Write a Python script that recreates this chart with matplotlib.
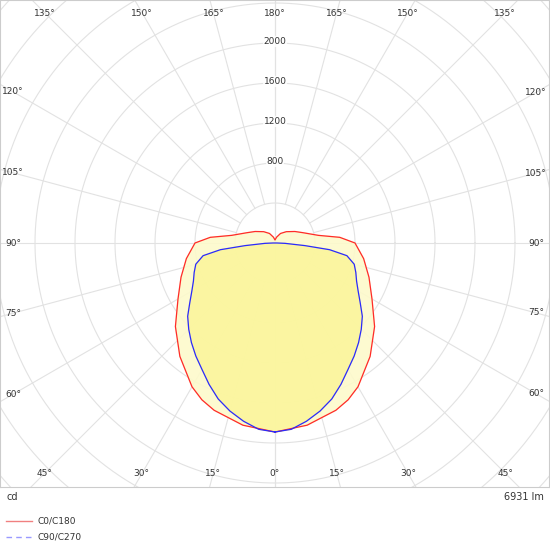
import numpy as np
import matplotlib.pyplot as plt
from matplotlib.lines import Line2D

# gamma angles (deg, 0 = straight down) and intensities (cd)
c0_angles = [0, 10, 20, 25, 30, 40, 50, 60, 70, 80, 90, 95, 100, 110, 120, 135, 150, 165, 180]
c0_cd = [1890, 1850, 1780, 1730, 1660, 1480, 1300, 1120, 1000, 900, 800, 650, 440, 300, 230, 160, 110, 60, 30]
c90_angles = [0, 5, 10, 15, 20, 25, 30, 35, 40, 45, 50, 55, 60, 65, 70, 75, 80, 83, 85, 88, 90]
c90_cd = [1890, 1870, 1810, 1740, 1660, 1560, 1460, 1380, 1300, 1220, 1140, 1040, 960, 900, 860, 820, 730, 550, 300, 100, 20]
ring_values = [400, 800, 1200, 1600, 2000, 2400, 2800, 3200, 3600]
ring_labels = [800, 1200, 1600, 2000]
spoke_angles = np.arange(0, 181, 15)
flux_text = "6931 lm"

W, H = 550, 550
fig = plt.figure(figsize=(W / 100, H / 100), dpi=100)
# plot box: x 0..549 px, y 0..487 px from top; centre at (275, 243); 0.1 px per cd
box_l, box_t, box_r, box_b = 0, 0, 549, 487
cx, cy, scale = 275, 243, 0.1
ax = fig.add_axes([box_l / W, 1 - box_b / H, (box_r - box_l) / W, (box_b - box_t) / H])
x0, x1 = (box_l - cx) / scale, (box_r - cx) / scale
y0, y1 = -(box_b - cy) / scale, (cy - box_t) / scale
ax.set_xlim(x0, x1)
ax.set_ylim(y0, y1)
ax.set_xticks([])
ax.set_yticks([])
for s in ax.spines.values():
    s.set_color('#cccccc')
    s.set_linewidth(0.8)

grid_c = '#e2e2e2'
t = np.linspace(0, 2 * np.pi, 400)
for r in ring_values:
    ax.plot(r * np.cos(t), r * np.sin(t), color=grid_c, lw=0.8, zorder=1)
for a in spoke_angles:
    rad = np.deg2rad(a)
    r_start = 0 if a in (0, 180) else 400
    for sgn in (1, -1):
        ax.plot([sgn * r_start * np.sin(rad), sgn * 6000 * np.sin(rad)],
                [-r_start * np.cos(rad), -6000 * np.cos(rad)], color=grid_c, lw=0.8, zorder=1)


def closed_curve(angles, vals):
    a = np.deg2rad(np.array(angles, dtype=float))
    v = np.array(vals, dtype=float)
    xr, yr = v * np.sin(a), -v * np.cos(a)
    return np.concatenate([xr, -xr[::-1]]), np.concatenate([yr, yr[::-1]])


rx, ry = closed_curve(c0_angles, c0_cd)
bx, by = closed_curve(c90_angles, c90_cd)
ax.fill(rx, ry, color='#fdfacb', alpha=0.9, zorder=2)
ax.fill(bx, by, color='#fbf59c', alpha=0.9, zorder=3)
ax.plot(rx, ry, color='#ff2a2a', lw=0.9, zorder=5)
ax.plot(bx, by, color='#2a2aff', lw=0.9, zorder=6)

# ring labels along the 180 deg spoke
for r in ring_labels:
    ax.text(0, r - 30, str(r), ha='center', va='bottom', fontsize=6.5, color='#333333',
            zorder=7, bbox=dict(facecolor='white', edgecolor='none', pad=0.5, alpha=0.8))

# angle labels just inside the box edge
inset = 13 / scale
for a in spoke_angles:
    rad = np.deg2rad(a)
    dx, dy = np.sin(rad), -np.cos(rad)
    for sgn in ((1, -1) if a not in (0, 180) else (1,)):
        ex, ey = sgn * dx, dy
        cands = []
        if abs(ex) > 1e-9:
            cands.append(((x1 - inset) if ex > 0 else (-(x0) - inset)) / abs(ex))
        if abs(ey) > 1e-9:
            cands.append(((y1 - inset) if ey > 0 else (-(y0) - inset)) / abs(ey))
        d = min(cands)
        ax.text(d * ex, d * ey, f"{a}°", ha='center', va='center', fontsize=6.5,
                color='#333333', zorder=7)

fig.text(6 / W, 1 - 497 / H, "cd", ha='left', va='center', fontsize=7, color='#333333')
fig.text(544 / W, 1 - 497 / H, flux_text, ha='right', va='center', fontsize=7, color='#333333')
lax = fig.add_axes([0, 0, 1, 1], facecolor='none')
lax.set_xlim(0, W)
lax.set_ylim(H, 0)
lax.axis('off')
lax.add_line(Line2D([6, 32], [521, 521], color='#f08080', lw=1))
lax.add_line(Line2D([6, 32], [537, 537], color='#9999ff', lw=1, ls=(0, (4, 3))))
lax.text(38, 521, "C0/C180", va='center', fontsize=6.5, color='#333333')
lax.text(38, 537, "C90/C270", va='center', fontsize=6.5, color='#333333')

fig.savefig('out.png', dpi=100)
